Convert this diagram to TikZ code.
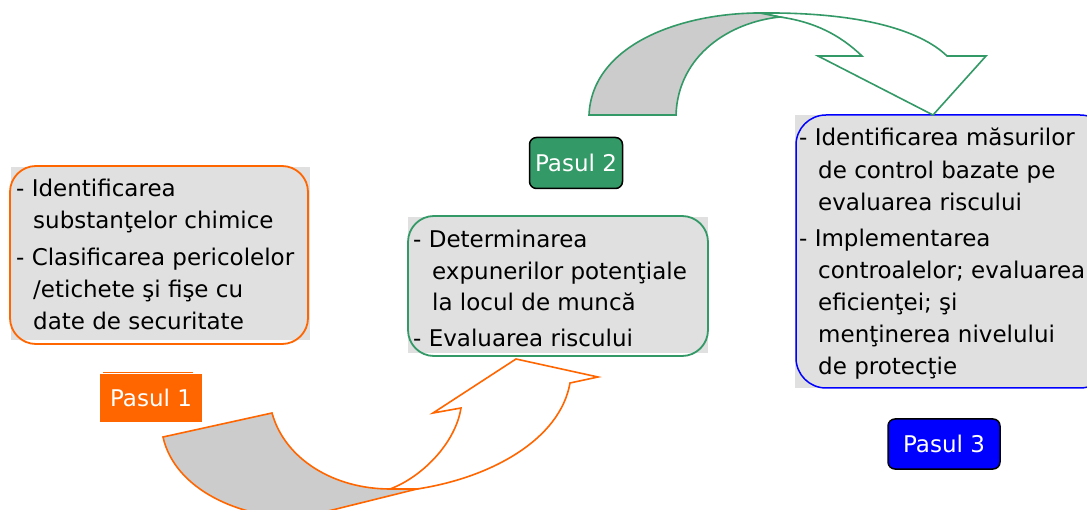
\documentclass[tikz,border=0pt]{standalone}
\usepackage{fontspec}
\setmainfont{DejaVu Sans}
\definecolor{orng}{HTML}{FF6600}
\definecolor{grn}{HTML}{339966}
\definecolor{blu}{HTML}{0000FF}
\definecolor{boxgray}{HTML}{E0E0E0}
\definecolor{arrgray}{HTML}{CCCCCC}
\tikzset{
  txt/.style={anchor=base west, inner sep=0pt, font=\fontsize{23}{28}\selectfont},
  pasul/.style={rectangle, inner sep=0pt, text=white, font=\fontsize{23}{28}\selectfont},
  boxborder/.style={rounded corners=26pt, line width=1.8pt},
  ribbon/.style={line width=1.6pt, line join=miter},
}
\begin{document}
\begin{tikzpicture}[x=1pt,y=-1pt]
\clip (0,0) rectangle (1087,510);
\fill[white] (0,0) rectangle (1087,510);

% ---------- Box 1 ----------
\fill[boxgray] (11,167) rectangle (310,340);
\draw[boxborder, draw=orng] (10,166) rectangle (308,344);
\node[txt] (b1a) at (16,197) {- Identificarea};
\node[txt] (b1b) at (33,229) {substanţelor chimice};
\node[txt] (b1c) at (16,266) {- Clasificarea pericolelor};
\node[txt] (b1d) at (33,298) {/etichete şi fişe cu};
\node[txt] (b1e) at (33,330) {date de securitate};

% ---------- Box 2 ----------
\fill[boxgray] (408,217) rectangle (708,353);
\draw[boxborder, draw=grn] (408,216) rectangle (708,356);
\node[txt] (b2a) at (413,248) {- Determinarea};
\node[txt] (b2b) at (432,280) {expunerilor potenţiale};
\node[txt] (b2c) at (432,311) {la locul de muncă};
\node[txt] (b2d) at (413,347) {- Evaluarea riscului};

% ---------- Box 3 ----------
\fill[boxgray] (795,115) rectangle (1090,388);
\draw[boxborder, rounded corners=30pt, draw=blu, line width=1.5pt] (796,115) rectangle (1110,388);
\node[txt] (b3a) at (799,146) {- Identificarea măsurilor};
\node[txt] (b3b) at (818,179) {de control bazate pe};
\node[txt] (b3c) at (818,211) {evaluarea riscului};
\node[txt] (b3d) at (799,247) {- Implementarea};
\node[txt] (b3e) at (818,279) {controalelor; evaluarea};
\node[txt] (b3f) at (818,311) {eficienţei; şi};
\node[txt] (b3g) at (818,343) {menţinerea nivelului};
\node[txt] (b3h) at (818,375) {de protecţie};

% ---------- Pasul labels ----------
\draw[orng, line width=1pt] (103,372.5) -- (193,372.5);
\node[pasul, fill=orng, minimum width=102pt, minimum height=47pt] (p1) at (151,398) {Pasul 1};
\node[pasul, fill=grn, draw=black, line width=1.5pt, rounded corners=7pt,
      minimum width=93pt, minimum height=51pt] (p2) at (576,163) {Pasul 2};
\node[pasul, fill=blu, draw=black, line width=1.5pt, rounded corners=7pt,
      minimum width=112pt, minimum height=50pt] (p3) at (944,444) {Pasul 3};

% ---------- Orange curved arrow (bottom) ----------
\draw[ribbon, draw=orng, fill=white]
  (390,489) .. controls (420,478) and (455,445) .. (461,408)
  -- (433,413) -- (516,359) -- (598,377) -- (570,383)
  .. controls (560,440) and (490,478) .. (417,489) -- cycle;
\draw[ribbon, draw=orng, fill=arrgray]
  (163,437) -- (272,413) .. controls (285,460) and (335,489) .. (390,489)
  -- (417,489) -- (300,518) .. controls (240,518) and (175,490) .. (163,437) -- cycle;

% ---------- Green curved arrow (top) ----------
\draw[ribbon, draw=grn, fill=white]
  (760,13) .. controls (860,12) and (920,30) .. (947,56)
  -- (986,56) -- (933,115) -- (818,56) -- (862,56)
  .. controls (840,35) and (815,22) .. (780,17) -- cycle;
\draw[ribbon, draw=grn, fill=arrgray]
  (589,115) .. controls (592,45) and (680,13) .. (760,13)
  -- (780,17) .. controls (730,22) and (678,55) .. (676,115) -- cycle;
\end{tikzpicture}
\end{document}
